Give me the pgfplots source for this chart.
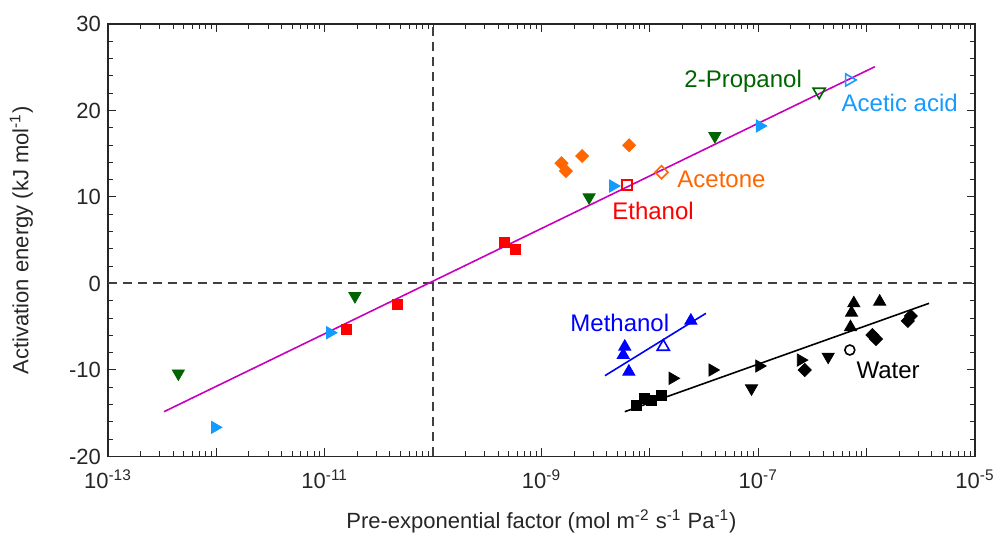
\documentclass[border=0pt]{standalone}
\usepackage{fontspec}
\setmainfont{Liberation Sans}
\usepackage{pgfplots}
\pgfplotsset{compat=1.18}
\definecolor{cgreen}{RGB}{0,100,0}
\definecolor{cacet}{RGB}{20,155,255}
\definecolor{cred}{RGB}{255,0,0}
\definecolor{corange}{RGB}{255,102,0}
\definecolor{cmag}{RGB}{200,0,190}
\definecolor{cmeth}{RGB}{0,0,255}
\definecolor{cdash}{RGB}{64,64,64}
\definecolor{caxis}{RGB}{38,38,38}
\begin{document}
\begin{tikzpicture}
\begin{axis}[
  at={(0,0)}, anchor=south west,
  scale only axis, width=433.5pt, height=216.25pt,
  xmode=log, xmin=1e-13, xmax=1e-5, ymin=-20, ymax=30,
  axis line style={caxis, line width=0.6pt},
  every tick/.style={caxis, line width=0.5pt},
  major tick length=4pt, minor tick length=2.5pt,
  xtick={1e-13,1e-12,1e-11,1e-10,1e-9,1e-8,1e-7,1e-6,1e-5},
  xticklabels={10\textsuperscript{-13},{},10\textsuperscript{-11},{},10\textsuperscript{-9},{},10\textsuperscript{-7},{},10\textsuperscript{-5}},
  minor xtick={2e-13,3e-13,4e-13,5e-13,6e-13,7e-13,8e-13,9e-13,
    2e-12,3e-12,4e-12,5e-12,6e-12,7e-12,8e-12,9e-12,
    2e-11,3e-11,4e-11,5e-11,6e-11,7e-11,8e-11,9e-11,
    2e-10,3e-10,4e-10,5e-10,6e-10,7e-10,8e-10,9e-10,
    2e-9,3e-9,4e-9,5e-9,6e-9,7e-9,8e-9,9e-9,
    2e-8,3e-8,4e-8,5e-8,6e-8,7e-8,8e-8,9e-8,
    2e-7,3e-7,4e-7,5e-7,6e-7,7e-7,8e-7,9e-7,
    2e-6,3e-6,4e-6,5e-6,6e-6,7e-6,8e-6,9e-6},
  ytick={-20,-10,0,10,20,30},
  yticklabels={-20,-10,0,10,20,30},
  minor ytick={-18,-16,-14,-12,-8,-6,-4,-2,2,4,6,8,12,14,16,18,22,24,26,28},
  tick label style={font=\fontsize{11}{13}\selectfont, text=caxis},
  xticklabel style={yshift=-3pt},
  xlabel={Pre-exponential factor (mol m\textsuperscript{-2} s\textsuperscript{-1} Pa\textsuperscript{-1})},
  ylabel={Activation energy (kJ mol\textsuperscript{-1})},
  every axis x label/.style={at={(axis description cs:0.5,-0.149)}, anchor=center, font=\fontsize{11}{13}\selectfont, text=caxis},
  every axis y label/.style={at={(axis description cs:-0.1,0.5)}, anchor=center, rotate=90, font=\fontsize{11}{13}\selectfont, text=caxis},
  clip=false,
]
% reference dashed lines
\addplot[cdash, line width=1pt, dash pattern=on 4.5pt off 3pt] coordinates {(1e-13,0) (1e-5,0)};
\addplot[cdash, line width=1pt, dash pattern=on 4.5pt off 3pt] coordinates {(1e-10,-20) (1e-10,30)};
% fit lines
\addplot[cmag, line width=0.8pt] coordinates {(3.29e-13,-14.82) (1.19e-6,25.06)};
\addplot[cmeth, line width=0.8pt] coordinates {(3.85e-9,-10.66) (3.29e-8,-3.45)};
\addplot[black, line width=0.8pt] coordinates {(5.87e-9,-14.82) (3.77e-6,-2.29)};
% 2-Propanol
\addplot[only marks, mark=triangle*, mark size=3.5pt, mark options={rotate=180, draw=cgreen, fill=cgreen}] coordinates {
(4.46e-13,-10.4) (1.90e-11,-1.45) (2.75e-9,9.97) (3.98e-8,17.05)};
\addplot[only marks, mark=triangle, mark size=3.5pt, mark options={rotate=180, draw=cgreen, fill=white, line width=0.8pt}] coordinates {(3.65e-7,22.17)};
% Acetic acid
\addplot[only marks, mark=triangle*, mark size=3.5pt, mark options={rotate=-90, draw=cacet, fill=cacet}] coordinates {
(9.70e-13,-16.63) (1.12e-11,-5.69) (4.58e-9,11.27) (1.035e-7,18.21)};
\addplot[only marks, mark=triangle, mark size=3.5pt, mark options={rotate=-90, draw=cacet, fill=white, line width=0.8pt}] coordinates {(6.90e-7,23.53)};
% Ethanol
\addplot[only marks, mark=square*, mark size=2.5pt, mark options={draw=cred, fill=cred}] coordinates {
(1.57e-11,-5.26) (4.73e-11,-2.37) (4.50e-10,4.76) (5.77e-10,3.99)};
\addplot[only marks, mark=square, mark size=2.5pt, mark options={draw=cred, fill=white, line width=0.8pt}] coordinates {(6.18e-9,11.39)};
% Acetone
\addplot[only marks, mark=square*, mark size=2.3pt, mark options={rotate=45, draw=corange, fill=corange}] coordinates {
(1.53e-9,13.90) (1.68e-9,13.0) (2.37e-9,14.74) (6.44e-9,15.98)};
\addplot[only marks, mark=square, mark size=2.3pt, mark options={rotate=45, draw=corange, fill=white, line width=0.8pt}] coordinates {(1.28e-8,12.86)};
% Methanol
\addplot[only marks, mark=triangle*, mark size=3.5pt, mark options={draw=cmeth, fill=cmeth}] coordinates {
(5.87e-9,-7.31) (5.68e-9,-8.27) (6.40e-9,-10.20) (2.39e-8,-4.30)};
\addplot[only marks, mark=triangle, mark size=3.5pt, mark options={draw=cmeth, fill=white, line width=0.8pt}] coordinates {(1.33e-8,-7.31)};
% Water
\addplot[only marks, mark=square*, mark size=2.5pt, mark options={draw=black, fill=black}] coordinates {
(7.53e-9,-14.13) (8.85e-9,-13.27) (1.04e-8,-13.47) (1.28e-8,-12.89)};
\addplot[only marks, mark=triangle*, mark size=3.5pt, mark options={rotate=-90, draw=black, fill=black}] coordinates {
(1.62e-8,-10.96) (3.78e-8,-10.0) (1.02e-7,-9.54) (2.47e-7,-8.85)};
\addplot[only marks, mark=triangle*, mark size=3.5pt, mark options={rotate=180, draw=black, fill=black}] coordinates {
(8.67e-8,-12.12) (4.42e-7,-8.46)};
\addplot[only marks, mark=square*, mark size=2.3pt, mark options={rotate=45, draw=black, fill=black}] coordinates {
(2.69e-7,-10.0) (1.13e-6,-5.95) (1.22e-6,-6.42) (2.40e-6,-4.33) (2.56e-6,-3.76)};
\addplot[only marks, mark=triangle*, mark size=3.5pt, mark options={draw=black, fill=black}] coordinates {
(7.62e-7,-2.29) (7.26e-7,-3.38) (7.10e-7,-5.06) (1.32e-6,-2.10)};
\addplot[only marks, mark=*, mark size=2.5pt, mark options={draw=black, fill=white, line width=0.8pt}] coordinates {(7.00e-7,-7.69)};
% labels
\node[text=cgreen, font=\fontsize{12}{14}\selectfont] at (axis cs:7.26e-8,23.33) {2-Propanol};
\node[text=cacet, font=\fontsize{12}{14}\selectfont] at (axis cs:2.02e-6,20.83) {Acetic acid};
\node[text=corange, font=\fontsize{12}{14}\selectfont] at (axis cs:4.58e-8,12.08) {Acetone};
\node[text=cred, font=\fontsize{12}{14}\selectfont] at (axis cs:1.07e-8,8.38) {Ethanol};
\node[text=cmeth, font=\fontsize{12}{14}\selectfont] at (axis cs:5.28e-9,-4.60) {Methanol};
\node[text=black, font=\fontsize{12}{14}\selectfont] at (axis cs:1.58e-6,-10.0) {Water};
\end{axis}
\pgfresetboundingbox
\useasboundingbox (-54pt,-41.25pt) rectangle (446pt,228.25pt);
\end{tikzpicture}
\end{document}
